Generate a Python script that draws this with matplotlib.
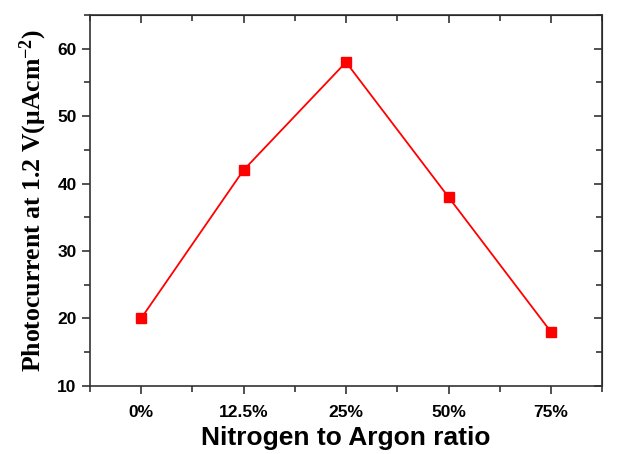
import numpy as np
import matplotlib.pyplot as plt
from matplotlib.ticker import MultipleLocator

# data
ratios = ['0%', '12.5%', '25%', '50%', '75%']
photocurrent = [20, 42, 58, 38, 18]

plt.rcParams['mathtext.fontset'] = 'custom'
plt.rcParams['mathtext.rm'] = 'Liberation Serif:bold'
plt.rcParams['mathtext.it'] = 'Liberation Serif:bold'
plt.rcParams['mathtext.bf'] = 'Liberation Serif:bold'

fig = plt.figure(figsize=(6.28, 4.54), dpi=100)
ax = fig.add_axes([0.143, 0.150, 0.816, 0.817])

x = np.arange(len(ratios))
ax.plot(x, photocurrent, 's-', color='red', lw=1.3, ms=6.5)

ax.set_xlim(-0.5, 4.5)
ax.set_ylim(10, 65)
ax.set_xticks(x)
ax.set_xticklabels(ratios)
ax.xaxis.set_minor_locator(MultipleLocator(0.5))
ax.yaxis.set_major_locator(MultipleLocator(10))
ax.yaxis.set_minor_locator(MultipleLocator(5))

for sp in ax.spines.values():
    sp.set_linewidth(1.2)
    sp.set_color('#333333')

ax.tick_params(which='both', direction='out', width=1.2, color='#333333',
               top=False, right=False)
ax.tick_params(which='major', length=6)
ax.tick_params(which='minor', length=4)
ax.tick_params(axis='x', pad=8)
for lab in ax.get_xticklabels() + ax.get_yticklabels():
    lab.set_fontfamily('Liberation Sans')
    lab.set_fontweight('bold')
    lab.set_fontsize(12.5)

# mirrored inward ticks on top and right
axt = ax.secondary_xaxis('top')
axt.set_xticks(x)
axt.xaxis.set_minor_locator(MultipleLocator(0.5))
axt.tick_params(which='both', direction='in', width=1.2, color='#333333', labeltop=False)
axt.tick_params(which='major', length=6)
axt.tick_params(which='minor', length=4)
axr = ax.secondary_yaxis('right')
axr.yaxis.set_major_locator(MultipleLocator(10))
axr.yaxis.set_minor_locator(MultipleLocator(5))
axr.tick_params(which='both', direction='in', width=1.2, color='#333333', labelright=False)
axr.tick_params(which='major', length=6)
axr.tick_params(which='minor', length=4)

ax.set_xlabel('Nitrogen to Argon ratio', fontfamily='Liberation Sans',
              fontweight='bold', fontsize=19, labelpad=4)
ax.set_ylabel(r'Photocurrent at 1.2 V($\mu$Acm$^{-2}$)',
              fontfamily='Liberation Serif', fontweight='bold', fontsize=18.5, labelpad=6)

fig.savefig('out.png', dpi=100)
